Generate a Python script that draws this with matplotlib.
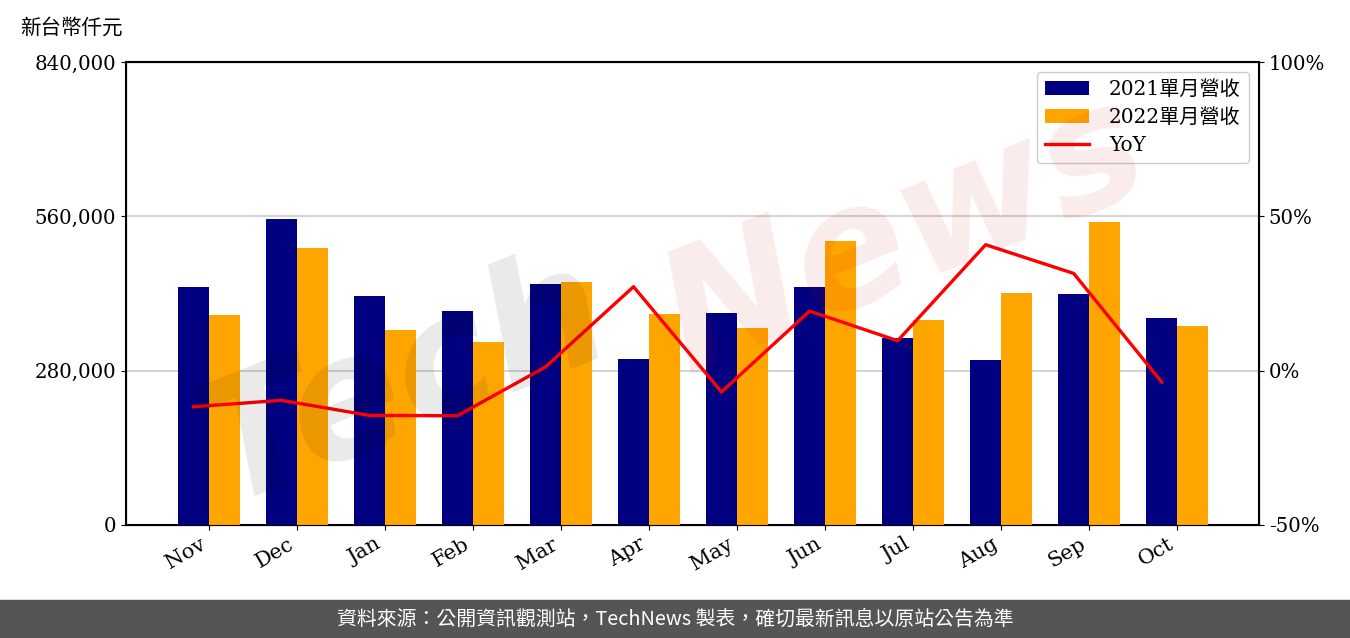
import matplotlib
matplotlib.use("Agg")
import matplotlib.pyplot as plt
import numpy as np

plt.rcParams['font.family'] = ['DejaVu Serif', 'Noto Sans CJK TC']

months = ['Nov', 'Dec', 'Jan', 'Feb', 'Mar', 'Apr', 'May', 'Jun', 'Jul', 'Aug', 'Sep', 'Oct']
rev_2021 = [431800, 555200, 415500, 388300, 437200, 301200, 384600, 431800, 339300, 299400, 419100, 375600]
rev_2022 = [381000, 502600, 353800, 332000, 440900, 382800, 357400, 515300, 371900, 420900, 549700, 361000]
yoy = [-11.7, -9.6, -14.5, -14.6, 1.2, 27.2, -6.9, 19.3, 9.7, 40.8, 31.5, -3.7]

fig = plt.figure(figsize=(13.5, 6.38), dpi=100)
ax = fig.add_axes([126/1350, 1-525/638, (1259-126)/1350, (525-62)/638])
x = np.arange(len(months))
w = 0.35
ax.bar(x - w/2, rev_2021, w, color='#000080', label='2021單月營收', zorder=3)
ax.bar(x + w/2, rev_2022, w, color='#FFA500', label='2022單月營收', zorder=3)
ax.set_xlim(-0.94, 11.93)
ax.set_ylim(0, 840000)
ax.set_yticks([0, 280000, 560000, 840000])
ax.set_yticklabels(['0', '280,000', '560,000', '840,000'], fontsize=14.2)
ax.set_xticks(x)
ax.set_xticklabels(months, rotation=30, fontsize=15, ha='right')
ax.grid(axis='y', color='#cccccc', lw=1.2, zorder=0)
for s in ax.spines.values():
    s.set_linewidth(1.5)

ax2 = ax.twinx()
ax2.plot(x - w/2, yoy, color='red', lw=2.4, label='YoY', zorder=4)
ax2.set_ylim(-50, 100)
ax2.set_yticks([-50, 0, 50, 100])
ax2.set_yticklabels(['-50%', '0%', '50%', '100%'], fontsize=14.2)

h1, l1 = ax.get_legend_handles_labels()
h2, l2 = ax2.get_legend_handles_labels()
ax2.legend(h1 + h2, l1 + l2, loc='upper right', fontsize=14.5, framealpha=1,
           borderaxespad=0.5, labelspacing=0.45, handlelength=2.2, handletextpad=1.0)

# watermark
fig.text(0.30, 0.40, 'Tech', fontsize=120, color='black', alpha=0.085, rotation=22,
         ha='center', va='center', family='DejaVu Sans', style='italic', weight='bold', zorder=10)
fig.text(0.67, 0.63, 'News', fontsize=120, color='#cc0000', alpha=0.08, rotation=22,
         ha='center', va='center', family='DejaVu Sans', style='italic', weight='bold', zorder=10)

fig.text(20/1350, 1-28/638, '新台幣仟元', fontsize=14.8, ha='left', va='center',
         family=['Noto Sans CJK TC'])

fig.patches.append(plt.Rectangle((0, 0), 1, 38/638, transform=fig.transFigure,
                                 color='#555555', zorder=-1))
fig.text(0.5, 19/638, '資料來源：公開資訊觀測站，TechNews 製表，確切最新訊息以原站公告為準',
         fontsize=14.3, color='white', ha='center', va='center',
         family=['Noto Sans CJK TC', 'DejaVu Sans'])

fig.savefig('out.png', dpi=100)
